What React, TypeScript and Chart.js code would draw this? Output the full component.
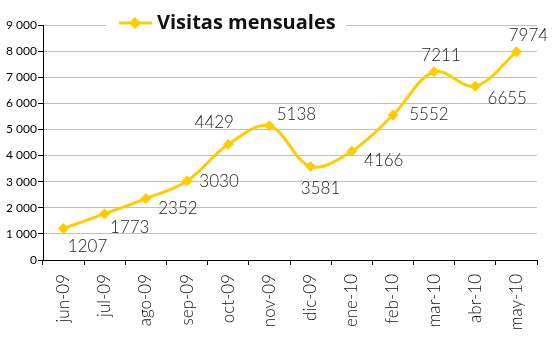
import React, { useEffect, useRef } from "react";
import { Chart, registerables } from "chart.js";

Chart.register(...registerables);

const categories = ["jun-09", "jul-09", "ago-09", "sep-09", "oct-09", "nov-09", "dic-09", "ene-10", "feb-10", "mar-10", "abr-10", "may-10"];
const visitas = [1207, 1773, 2352, 3030, 4429, 5138, 3581, 4166, 5552, 7211, 6655, 7974];
const seriesName = "Visitas mensuales";
const yMin = 0;
const yMax = 9000;
const yStep = 1000;

// label placement relative to each point (label centre offset in px)
const labelOffsets: [number, number][] = [
  [24, 18], [25, 14], [32, 10], [32, 1], [-14, -22], [27, -11],
  [10, 22], [32, 9], [36, -1], [7, -16], [32, 12], [12, -16],
];

const LINE_COLOR = "#FFCC00";

const fmt = (v: number) => String(v).replace(/\B(?=(\d{3})+(?!\d))/g, " ");

const dataLabelPlugin = {
  id: "dataLabels",
  afterDatasetsDraw(chart: any) {
    const ctx = chart.ctx;
    const meta = chart.getDatasetMeta(0);
    ctx.save();
    ctx.font = "300 17px Lato";
    ctx.fillStyle = "#222";
    ctx.textAlign = "center";
    ctx.textBaseline = "middle";
    meta.data.forEach((pt: any, i: number) => {
      const off = labelOffsets[i] || [0, 0];
      ctx.fillText(String(visitas[i]), pt.x + off[0], pt.y + off[1]);
    });
    ctx.restore();
  },
};

const legendPlugin = {
  id: "customLegend",
  afterDraw(chart: any) {
    const ctx = chart.ctx;
    ctx.save();
    ctx.fillStyle = "#fff";
    ctx.fillRect(106, 12, 240, 24);
    ctx.strokeStyle = LINE_COLOR;
    ctx.lineWidth = 3;
    ctx.beginPath();
    ctx.moveTo(119, 23);
    ctx.lineTo(152, 23);
    ctx.stroke();
    ctx.fillStyle = LINE_COLOR;
    ctx.beginPath();
    ctx.moveTo(135, 17);
    ctx.lineTo(141, 23);
    ctx.lineTo(135, 29);
    ctx.lineTo(129, 23);
    ctx.closePath();
    ctx.fill();
    ctx.fillStyle = "#111";
    ctx.font = "bold 20px 'Open Sans'";
    ctx.textAlign = "left";
    ctx.textBaseline = "middle";
    ctx.fillText(seriesName, 157, 23);
    ctx.restore();
  },
};

export default function App() {
  const ref = useRef<HTMLCanvasElement>(null);
  useEffect(() => {
    if (!ref.current) return;
    const chart = new Chart(ref.current, {
      type: "line",
      data: {
        labels: categories,
        datasets: [
          {
            label: seriesName,
            data: visitas,
            borderColor: LINE_COLOR,
            backgroundColor: LINE_COLOR,
            borderWidth: 3,
            tension: 0.35,
            pointStyle: "rectRot",
            pointRadius: 5,
            pointBorderWidth: 1,
            pointBackgroundColor: LINE_COLOR,
            pointBorderColor: LINE_COLOR,
          },
        ],
      },
      options: {
        responsive: false,
        animation: false,
        layout: { padding: { top: 25, right: 19, left: 0, bottom: 0 } },
        plugins: {
          legend: { display: false },
          tooltip: { enabled: false },
        },
        scales: {
          x: {
            offset: true,
            grid: {
              offset: true,
              drawOnChartArea: false,
              drawTicks: true,
              tickLength: 5,
              tickColor: "#000",
              color: "#000",
            },
            border: { color: "#000", width: 1 },
            ticks: {
              minRotation: 90,
              maxRotation: 90,
              padding: 9,
              color: "#111",
              font: { family: "Lato", size: 17, weight: "300" },
            },
            afterFit(scale: any) {
              scale.height = 91;
            },
          },
          y: {
            min: yMin,
            max: yMax,
            ticks: {
              stepSize: yStep,
              color: "#000",
              padding: 1,
              font: { family: "Lato", size: 12 },
              callback: (v: any) => fmt(Number(v)),
            },
            grid: {
              color: "#BFBFBF",
              tickColor: "#000",
              tickLength: 5,
              lineWidth: 1,
            },
            border: { color: "#000", width: 1 },
            afterFit(scale: any) {
              scale.width = 43;
            },
          },
        },
      },
      plugins: [dataLabelPlugin, legendPlugin],
    });
    return () => chart.destroy();
  }, []);
  return (
    <div style={{ position: "absolute", left: 0, top: 0, width: 556, height: 351, background: "#fff" }}>
      <canvas ref={ref} width={556} height={351} />
    </div>
  );
}
